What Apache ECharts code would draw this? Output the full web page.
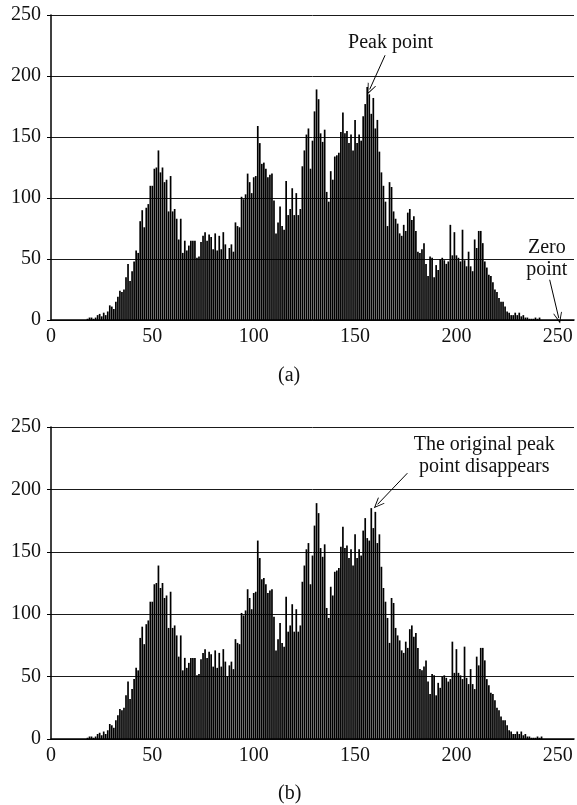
<!DOCTYPE html>
<html>
<head>
<meta charset="utf-8">
<script src="https://cdn.jsdelivr.net/npm/echarts@6/dist/echarts.min.js"></script>
<style>
  html, body { margin: 0; padding: 0; background: #fff; }
  #chart { width: 577px; height: 805px; }
</style>
</head>
<body>
<div id="chart"></div>
<script>
// 灰度直方图 (a) 原图, (b) 平移后
const xTicks = [0, 50, 100, 150, 200, 250];
const yTicks = [0, 50, 100, 150, 200, 250];

const histA = [
  0, 0, 0, 0, 0, 0, 0, 0, 0, 0, 0, 0, 0, 0, 0, 0,
  0, 0, 1, 2, 2, 1, 2, 4, 5, 3, 6, 4, 7, 12, 11, 9,
  15, 19, 24, 23, 25, 35, 46, 32, 40, 48, 57, 55, 81, 90, 76, 92,
  95, 110, 110, 124, 125, 139, 121, 125, 113, 115, 89, 118, 89, 91, 83, 66,
  83, 55, 65, 57, 61, 65, 65, 65, 51, 52, 64, 69, 72, 65, 70, 68,
  58, 71, 57, 69, 58, 72, 62, 50, 59, 62, 56, 80, 77, 76, 101, 99,
  103, 120, 113, 104, 117, 118, 159, 145, 128, 129, 124, 117, 119, 120, 98, 71,
  80, 93, 77, 74, 114, 86, 91, 108, 86, 104, 86, 91, 126, 139, 152, 157,
  124, 147, 171, 189, 181, 153, 146, 156, 105, 97, 122, 115, 134, 135, 137, 154,
  170, 153, 155, 145, 152, 139, 164, 145, 152, 147, 167, 177, 191, 185, 169, 182,
  157, 164, 138, 121, 110, 97, 77, 113, 109, 89, 83, 79, 71, 69, 78, 73,
  88, 91, 82, 85, 73, 56, 55, 58, 63, 46, 36, 52, 51, 35, 45, 41,
  50, 51, 49, 46, 48, 78, 53, 72, 53, 51, 48, 74, 49, 44, 56, 44,
  40, 66, 59, 73, 73, 63, 48, 43, 37, 36, 31, 25, 23, 18, 15, 15,
  11, 7, 6, 4, 4, 6, 4, 6, 3, 4, 2, 2, 1, 1, 1, 2,
  1, 2, 0, 0, 0, 0, 0, 0, 0, 0, 0, 0, 0, 0, 0, 0
];

const histB = [
  0, 0, 0, 0, 0, 0, 0, 0, 0, 0, 0, 0, 0, 0, 0, 0,
  0, 0, 1, 2, 2, 1, 2, 4, 5, 3, 6, 4, 7, 12, 11, 9,
  15, 19, 24, 23, 25, 35, 46, 32, 40, 48, 57, 55, 81, 90, 76, 92,
  95, 110, 110, 124, 125, 139, 121, 125, 113, 115, 89, 118, 89, 91, 83, 66,
  83, 55, 65, 57, 61, 65, 65, 65, 51, 52, 64, 69, 72, 65, 70, 68,
  58, 71, 57, 69, 58, 72, 62, 50, 59, 62, 56, 80, 77, 76, 101, 99,
  103, 120, 113, 104, 117, 118, 159, 145, 128, 129, 124, 117, 119, 120, 98, 71,
  80, 93, 77, 74, 114, 86, 91, 108, 86, 104, 86, 91, 126, 139, 152, 157,
  124, 147, 171, 189, 181, 153, 146, 156, 105, 97, 122, 115, 134, 135, 137, 154,
  170, 153, 155, 145, 152, 139, 164, 145, 152, 147, 167, 177, 161, 159, 185, 169,
  182, 157, 164, 138, 121, 110, 97, 77, 113, 109, 89, 83, 79, 71, 69, 78,
  73, 88, 91, 82, 85, 73, 56, 55, 58, 63, 46, 36, 52, 51, 35, 45,
  41, 50, 51, 49, 46, 48, 78, 53, 72, 53, 51, 48, 74, 49, 44, 56,
  44, 40, 66, 59, 73, 73, 63, 48, 43, 37, 36, 31, 25, 23, 18, 15,
  15, 11, 7, 6, 4, 4, 6, 4, 6, 3, 4, 2, 2, 1, 1, 1,
  2, 1, 2, 0, 0, 0, 0, 0, 0, 0, 0, 0, 0, 0, 0, 0
];

const FONT = '"Liberation Serif", "DejaVu Serif", serif';
const arrowHead = 'path://M0,0 L5,11 L4,11 L0,2.5 L-4,11 L-5,11 Z';

// x轴/y轴公共配置
function makeXAxis(gridIndex) {
  return {
    type: 'value', gridIndex: gridIndex, min: 0, max: 258, interval: 50,
    axisLine: { show: true, lineStyle: { color: '#000', width: 1.5 } },
    axisTick: { show: false },
    splitLine: { show: false },
    axisLabel: {
      color: '#111', fontFamily: FONT, fontSize: 20, margin: 7,
      formatter: function(v) { return xTicks.indexOf(v) >= 0 ? String(v) : ''; }
    }
  };
}
function makeYAxis(gridIndex) {
  return {
    type: 'value', gridIndex: gridIndex, min: 0, max: 250, interval: 50,
    axisLine: { show: true, lineStyle: { color: '#000', width: 1.5 } },
    axisTick: { show: true, length: 4, lineStyle: { color: '#000' } },
    splitLine: { show: true, lineStyle: { color: '#1a1a1a', width: 1 } },
    axisLabel: {
      color: '#111', fontFamily: FONT, fontSize: 20, margin: 10,
      formatter: function(v) { return yTicks.indexOf(v) >= 0 ? String(v) : ''; }
    }
  };
}

function toPairs(arr) {
  const out = [];
  for (let i = 0; i < arr.length; i++) out.push([i, arr[i]]);
  return out;
}

const textLabel = {
  show: true, position: 'inside', color: '#111',
  fontFamily: FONT, fontSize: 20, lineHeight: 22, align: 'center'
};

const chart = echarts.init(document.getElementById('chart'), null, { renderer: 'canvas' });
const option = {
  animation: false,
  backgroundColor: '#fff',
  grid: [
    { left: 51, right: 1, top: 15, height: 305 },
    { left: 51, right: 1, top: 427, height: 312 }
  ],
  xAxis: [makeXAxis(0), makeXAxis(1)],
  yAxis: [makeYAxis(0), makeYAxis(1)],
  graphic: [
    { type: 'text', left: 278, top: 366, style: { text: '(a)', font: '20px ' + FONT, fill: '#111' } },
    { type: 'text', left: 278, top: 784, style: { text: '(b)', font: '20px ' + FONT, fill: '#111' } }
  ],
  series: [
    {
      name: 'a', type: 'bar', xAxisIndex: 0, yAxisIndex: 0,
      data: toPairs(histA), barWidth: 1.7,
      itemStyle: { color: '#000' },
      markPoint: {
        symbol: 'circle', symbolSize: 0, silent: true,
        data: [
          { coord: [167.5, 227], value: 'Peak point', label: Object.assign({}, textLabel, { formatter: 'Peak point' }) },
          { coord: [244.6, 50], value: 'Zero point', label: Object.assign({}, textLabel, { formatter: 'Zero\npoint' }) }
        ]
      },
      markLine: {
        silent: true, symbol: ['none', arrowHead], symbolSize: [9, 11],
        lineStyle: { color: '#000', width: 1, type: 'solid' },
        label: { show: false },
        data: [
          [{ coord: [164.8, 217] }, { coord: [157.2, 189] }],
          [{ coord: [246, 33] }, { coord: [250.5, 1.5] }]
        ]
      }
    },
    {
      name: 'b', type: 'bar', xAxisIndex: 1, yAxisIndex: 1,
      data: toPairs(histB), barWidth: 1.7,
      itemStyle: { color: '#000' },
      markPoint: {
        symbol: 'circle', symbolSize: 0, silent: true,
        data: [
          { coord: [213.7, 227], value: 'text', label: Object.assign({}, textLabel, { formatter: 'The original peak\npoint disappears' }) }
        ]
      },
      markLine: {
        silent: true, symbol: ['none', arrowHead], symbolSize: [9, 11],
        lineStyle: { color: '#000', width: 1, type: 'solid' },
        label: { show: false },
        data: [
          [{ coord: [175.8, 213] }, { coord: [161.1, 188] }]
        ]
      }
    }
  ]
};
chart.setOption(option);
</script>
</body>
</html>
